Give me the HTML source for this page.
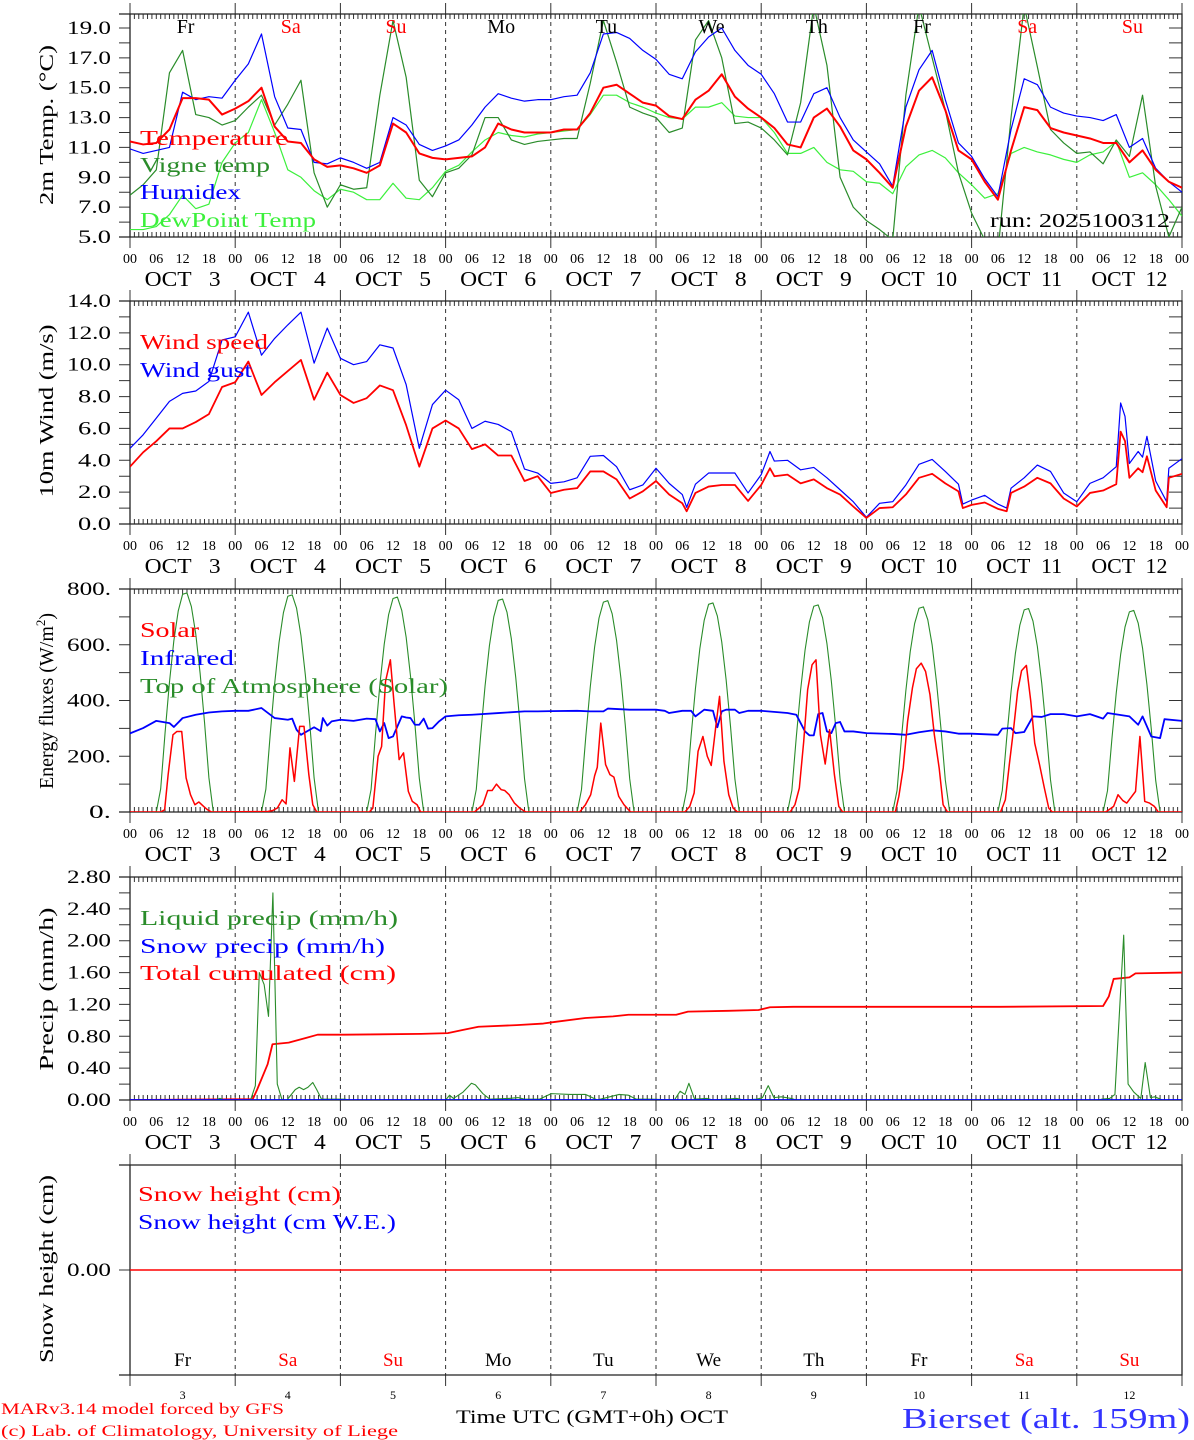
<!DOCTYPE html>
<html><head><meta charset="utf-8"><title>MAR forecast Bierset</title>
<style>
html,body{margin:0;padding:0;background:#fff;}
svg{display:block;font-family:"Liberation Serif","DejaVu Serif",serif;}
.pre{white-space:pre;}
</style></head>
<body>
<svg id="chart" xmlns="http://www.w3.org/2000/svg" width="1194" height="1440" viewBox="0 0 1194 1440"></svg>
<script>
// ---------- DATA ----------
const dayNames = ["Fr","Sa","Su","Mo","Tu","We","Th","Fr","Sa","Su"];
const dayNums = ["3","4","5","6","7","8","9","10","11","12"];
const hourTicks = ["00","06","12","18"];
const tempTicks = [5,7,9,11,13,15,17,19];
const tempTickLabels = ["5.0","7.0","9.0","11.0","13.0","15.0","17.0","19.0"];
const windTicks = [0,2,4,6,8,10,12,14];
const windTickLabels = ["0.0","2.0","4.0","6.0","8.0","10.0","12.0","14.0"];
const energyTicks = [0,200,400,600,800];
const energyTickLabels = ["0.","200.","400.","600.","800."];
const precipTicks = [0,0.4,0.8,1.2,1.6,2.0,2.4,2.8];
const precipTickLabels = ["0.00","0.40","0.80","1.20","1.60","2.00","2.40","2.80"];

const temperature = [11.4,11.2,11.3,12.2,14.3,14.3,14.2,13.2, 13.6,14.1,15.0,12.4,11.4,11.3,10.2,9.7,
 9.8,9.6,9.3,9.8,12.6,12.0,10.6,10.3, 10.2,10.3,10.4,11.0,12.6,12.2,12.0,12.0,
 12.0,12.2,12.2,13.3,15.0,15.2,14.6,14.0, 13.8,13.1,12.9,14.2,14.8,15.9,14.4,13.6,
 13.0,12.3,11.2,11.0,13.0,13.6,12.4,10.8, 10.2,9.3,8.3,12.4,14.8,15.7,13.5,10.8,
 10.2,8.7,7.5,10.8,13.7,13.5,12.3,12.0, 11.8,11.6,11.3,11.3,10.0,10.8,9.5,8.7,8.3];
const vigneTemp = [7.8,8.5,9.5,16.0,17.5,13.2,13.0,12.5, 12.8,13.7,14.5,12.5,13.9,15.5,9.3,7.0,
 8.5,8.2,8.3,14.5,19.5,15.7,8.8,7.7, 9.3,9.6,10.5,13.0,13.0,11.5,11.2,11.4,
 11.5,11.6,11.6,15.3,19.5,16.7,13.7,13.3, 13.0,12.0,12.3,18.2,19.5,17.0,12.6,12.7,
 12.3,11.5,10.5,14.0,20.5,16.5,9.0,7.0, 6.1,5.5,4.8,14.5,20.5,17.0,13.5,9.3,
 6.6,4.8,4.0,13.0,20.5,16.4,12.2,11.3, 10.6,10.7,9.9,11.5,10.4,14.5,8.4,5.0,7.0];
const humidex = [10.9,10.6,10.8,11.0,14.7,14.2,14.4,14.3, 15.5,16.6,18.6,14.4,12.3,12.2,10.0,9.9,
 10.3,10.0,9.6,10.0,13.0,12.5,11.2,10.8, 11.1,11.5,12.5,13.7,14.6,14.3,14.1,14.2,
 14.2,14.4,14.5,16.0,18.6,18.7,18.3,17.5, 16.9,15.9,15.6,17.4,18.4,19.0,17.5,16.5,
 15.9,14.6,12.7,12.7,14.6,15.0,13.0,11.5, 10.7,9.9,8.4,13.7,16.2,17.5,14.2,11.3,
 10.4,8.9,7.7,12.2,15.6,15.2,13.7,13.3, 13.1,13.0,12.8,13.2,11.0,11.6,9.6,8.7,8.0];
const dewPoint = [5.5,5.5,5.7,6.5,7.8,6.9,7.2,10.0, 11.3,12.0,14.2,12.0,9.5,9.0,8.1,7.5,
 8.2,8.0,7.5,7.5,8.6,7.6,7.5,8.3, 9.4,9.8,10.7,11.5,12.0,11.8,11.7,11.9,
 12.0,12.1,12.2,13.2,14.5,14.5,14.0,13.7, 13.3,13.0,12.9,13.7,13.7,14.0,13.1,13.0,
 13.0,12.0,10.6,10.6,11.0,10.0,9.5,9.4, 8.7,8.6,7.9,9.7,10.5,10.8,10.3,9.3,
 8.5,7.6,7.9,10.6,11.0,10.7,10.5,10.2, 10.0,10.5,10.7,11.4,9.0,9.3,8.5,7.5,6.4];

const windHours = [0,3,6,9,12,15,18,21, 24,27,30,33,36,39,42,45, 48,51,54,57,60,63,66,69, 72,75,78,81,84,87,90,93,
 96,99,102,105,108,111,114,117, 120,123,126,127,129,132,135,138,141, 144,146,147,150,153,156,159,162,165,
 168,171,174,177,180,183,186,189,190, 192,195,198,200,201,204,207,210,213,
 216,219,222,225,226,227,228,230,231,232,234,236.5,237,240];
const windSpeed = [3.6,4.5,5.2,6.0,6.0,6.4,6.9,8.6, 8.9,10.2,8.1,8.9,9.6,10.3,7.8,9.5, 8.1,7.6,7.9,8.7,8.4,6.2,3.6,6.0,
 6.5,6.0,4.7,5.0,4.3,4.3,2.7,3.0, 1.95,2.15,2.25,3.3,3.3,2.8,1.6,2.05, 2.7,1.85,1.3,0.8,1.95,2.35,2.45,2.45,1.45,
 2.45,3.5,3.0,3.1,2.55,2.8,2.25,1.85,1.1, 0.38,1.0,1.05,1.85,2.9,3.15,2.55,2.05,1.0,
 1.2,1.35,0.95,0.8,1.95,2.35,2.9,2.55,1.6, 1.1,1.95,2.1,2.5,5.8,5.2,2.9,3.5,3.25,4.25,2.1,1.05,2.9,3.15];
const windGust = [4.75,5.6,6.65,7.7,8.2,8.35,8.95,11.55, 11.75,13.3,10.6,11.65,12.5,13.3,10.1,12.3, 10.4,10.0,10.2,11.25,11.05,8.75,4.75,7.5,
 8.4,7.8,6.0,6.45,6.25,5.8,3.45,3.2, 2.55,2.65,2.9,4.25,4.3,3.6,2.15,2.45, 3.5,2.55,1.85,1.05,2.5,3.2,3.2,3.2,1.95,
 3.1,4.55,3.95,4.0,3.4,3.55,2.9,2.15,1.4, 0.42,1.3,1.4,2.45,3.75,4.05,3.3,2.5,1.25,
 1.5,1.8,1.25,1.0,2.25,2.9,3.7,3.3,1.95, 1.4,2.55,2.9,3.6,7.6,6.75,3.8,4.55,4.2,5.5,2.7,1.4,3.5,4.1];

const solarHours = [0,7,7.9,8.7,9.8,10.7,11.8,12.8,13.8,14.8,15.7,16.8,17.7,18.6,
 31.4,32.5,33.6,34.7,35.6,36.5,37.5,38.7,39.7,40.8,41.7,42.6,
 54.6,55.4,56.6,57.4,58.3,59.4,60.2,61.4,62.4,63.5,64.4,65.5,66.3,
 78.6,80.5,81.6,82.6,83.6,84.7,85.5,86.5,87.7,88.9,90.3,
 102.6,103.9,105.1,106.0,106.6,107.4,108.5,109.5,110.4,111.5,112.7,114.2,
 126.6,127.7,128.7,129.6,130.7,131.7,132.6,133.6,134.5,135.5,136.6,137.6,138.6,
 150.6,151.7,152.7,153.7,154.6,155.6,156.5,157.5,158.6,159.6,160.7,161.7,162.6,
 174.6,175.4,176.4,177.4,178.5,179.4,180.5,181.5,182.5,183.5,184.6,185.5,186.5,
 198.6,199.7,200.6,201.6,202.5,203.4,204.5,205.5,206.4,207.5,208.6,209.6,210.4,
 222.6,224.4,225.4,226.5,227.4,229.4,230.4,231.5,232.6,233.7,234.6,240];
const solar = [0,0,8,134,277,289,289,122,62,26,36,20,8,0,
 2,5,14,44,29,230,110,307,307,134,26,0,
 0,14,200,235,469,546,397,188,212,74,38,26,0,
 0,26,77,77,100,80,77,62,32,14,0,
 0,26,62,130,160,319,170,134,125,56,26,0,
 0,20,68,218,271,200,167,301,415,182,62,14,0,
 0,26,86,253,439,528,546,277,172,295,134,20,0,
 0,56,158,325,445,514,534,504,421,277,158,26,0,
 0,44,170,301,433,507,526,397,247,170,86,14,0,
 0,20,62,41,32,74,271,38,32,20,0,0];
const infraredHours = [0,3,6,9,10,12,15,18,21, 24,27,30,33,36,37,38,39,42,43.5,44,45,46,
 48,51,54,56,57,58,59,60,62,63,64,65,66,67,68,69,70.5, 72,75,78,84,90,93,
 96,102,105,108,109,114,117, 120,122,123,126,128,129,131,133,134,135,136,138,139,141,
 144,150,152,154,155,156,157,158,159,160,161,162,163,165, 168,174,177,180,183,186,189,
 192,198,199,201,202,204,206,208,210,213, 216,219,222,223,228,230,231,233,235,236,240];
const infrared = [282,301,327,319,305,337,349,357,361, 363,363,373,337,331,335,295,277,304,290,337,310,325,
 331,327,335,333,289,319,265,271,343,339,337,313,313,335,299,301,325, 343,347,349,355,361,361,
 362,363,361,361,371,367,367, 367,363,355,363,363,343,367,363,304,361,367,367,355,363,
 363,355,349,289,275,275,351,355,289,283,319,323,289,289, 283,280,277,286,293,289,281,
 281,277,299,301,283,287,343,341,351,351, 343,351,335,355,343,313,343,271,265,333,327];
const toaDaily = [
 [0,83,284,465,614,721,781,786,737,639,497,322,123,0],
 [0,82,281,460,608,715,774,779,731,633,492,319,122,0],
 [0,81,278,456,602,708,766,771,723,627,487,315,121,0],
 [0,81,276,452,597,701,759,764,717,621,483,313,120,0],
 [0,80,274,448,592,696,753,758,711,616,479,310,119,0],
 [0,79,271,443,586,688,745,750,703,610,474,307,118,0],
 [0,78,268,439,580,682,738,743,697,604,470,304,117,0],
 [0,78,266,435,575,676,731,736,690,599,465,301,115,0],
 [0,77,264,432,570,670,725,730,685,594,462,299,115,0],
 [0,76,261,427,565,664,718,723,678,588,457,296,113,0]];

const liquidHours = [0,19.5,20.5,21.5,27.5,28.6,29.5,30.6,31.6,32.6,33.6,34.7,35.8,37.7,38.6,39.6,40.6,41.7,42.6,43.7,49,50,
 72,72.9,73.8,76,77.9,78.8,80.5,82.1,86.5,88.6,90,93.4,96.1,100.4,103.9,106.6,108,111.6,113.7,115.5,119,
 124.2,125.5,126.6,127.5,128.8,131.6,133,138.4,140,143,144.3,145.6,146.9,148.6,150.8,152,197,198.5,200,
 221,221.7,223.5,224.7,226.7,227.7,229,230.6,231.6,232.8,233.8,235.5,240];
const liquidPrecip = [0,0,0.02,0,0,0.18,1.6,1.45,1.05,2.6,0.2,0,0,0.13,0.16,0.13,0.16,0.22,0.13,0.01,0.01,0,
 0,0.06,0.02,0.1,0.21,0.19,0.08,0.01,0.02,0.03,0.01,0.01,0.08,0.07,0.07,0,0.02,0.07,0.06,0.01,0.01,
 0,0.11,0.07,0.21,0.01,0.02,0,0.02,0,0.01,0.03,0.18,0.03,0.04,0.02,0,0,0.01,0,
 0,0.01,0.02,0.07,2.07,0.2,0.1,0.02,0.47,0.03,0.04,0,0];
const cumulHours = [0,28,29,31.4,32.5,36.2,40.2,42.8,48.9,66.4,72.5,76,79.5,88.2,94.3,96.9,103.9,110.2,113.7,124.6,127.3,136.5,143.4,146,151.3,198.5,222,223.3,224.4,228,229.4,240];
const cumulPrecip = [0,0.01,0.13,0.45,0.7,0.72,0.78,0.82,0.82,0.83,0.84,0.88,0.92,0.94,0.96,0.98,1.03,1.05,1.07,1.07,1.11,1.12,1.13,1.165,1.17,1.17,1.18,1.3,1.52,1.54,1.59,1.6];
const snowHours = [0,240];
const snowPrecip = [0,0];
const snowHeight = [0,0];

// ---------- DRAWING ----------
const NS = "http://www.w3.org/2000/svg";
const svg = document.getElementById("chart");
const XL = 130, XR = 1182;
function X(h){ return XL + h * (XR - XL) / 240; }
function mk(tag, attrs, parent){
  const e = document.createElementNS(NS, tag);
  for (const k in attrs) e.setAttribute(k, attrs[k]);
  (parent || svg).appendChild(e);
  return e;
}
function txt(str, attrs, parent){
  const t = mk("text", attrs, parent);
  t.textContent = str;
  return t;
}
const defs = mk("defs", {});
function scaleOf(v0, y0, v1, y1){ return v => y0 + (v - v0) * (y1 - y0) / (v1 - v0); }

const panels = [
  {id:"temp", top:14, bot:237, y:scaleOf(5,237,19,28), minor:[5,6,7,8,9,10,11,12,13,14,15,16,17,18,19]},
  {id:"wind", top:301, bot:524, y:scaleOf(0,524,14,301), minor:[0,1,2,3,4,5,6,7,8,9,10,11,12,13,14]},
  {id:"energy", top:589, bot:812, y:scaleOf(0,812,800,589), minor:[0,100,200,300,400,500,600,700,800]},
  {id:"precip", top:877, bot:1100, y:scaleOf(0,1100,2.8,877), minor:[0,0.2,0.4,0.6,0.8,1.0,1.2,1.4,1.6,1.8,2.0,2.2,2.4,2.6,2.8]}
];

function drawFrame(p, hourlyTicks){
  const g = mk("g", {});
  
  
  const cp = mk("clipPath", {id:"clip-" + p.id}, defs);
  mk("rect", {x:XL, y:p.top, width:XR-XL, height:p.bot-p.top}, cp);
  let d = "";
  for (let k = 1; k < 10; k++){ const x = X(k*24); d += `M${x},${p.top}V${p.bot}`; }
  const dl = mk("path", {d:d, stroke:"#333", "stroke-width":1, "stroke-dasharray":"4,4", fill:"none"}, g);
  
  
  let t = "";
  if (hourlyTicks){
    for (let h = 0; h <= 240; h++){ const x = X(h); t += `M${x},${p.top}v5M${x},${p.bot}v-5`; }
  }
  for (let k = 0; k <= 10; k++){ const x = X(k*24); t += `M${x},${p.top}v-11M${x},${p.bot}v11`; }
  (p.minor || []).forEach(v => { const y = p.y(v); t += `M119,${y}H${XL}M${XR},${y}h-13`; });
  const tk = mk("path", {d:t, stroke:"#333", "stroke-width":1, fill:"none"}, g);
  
  
  const fr = mk("path", {d:`M119,${p.top}H${XR}V${p.bot}H119M${XL},${p.top}V${p.bot}`, stroke:"#222", "stroke-width":1.3, fill:"none"}, g);
  
  
  return g;
}

function xLabels(p){
  const g = mk("g", {"font-size":14, fill:"#000", "text-anchor":"middle"});
  
  
  for (let h = 0; h <= 240; h += 6){
    const t = txt(hourTicks[(h/6)%4], {x:X(h), y:p.bot+26}, g);
    
    
  }
  for (let k = 0; k < 10; k++){
    const lab = "OCT" + (dayNums[k].length === 1 ? "   " : "  ") + dayNums[k];
    const t = txt(lab, {x:X(k*24+12), y:p.bot+49, "font-size":21, "class":"pre", textLength:76, lengthAdjust:"spacingAndGlyphs"}, g);
    
    
  }
}

function yLabels(p, vals, labels){
  const g = mk("g", {"font-size":19, fill:"#000", "text-anchor":"end"});
  
  
  vals.forEach((v, i) => {
    const L = labels[i];
    const t = txt(L, {x:111, y:p.y(v)+6, textLength: L.length*11, lengthAdjust:"spacingAndGlyphs"}, g);
    
    
  });
}

function yTitle(str, cy, len, name){
  const t = txt(str, {x:0, y:0, "font-size":20, "text-anchor":"middle", textLength:len, lengthAdjust:"spacingAndGlyphs",
    transform:`translate(53,${cy}) rotate(-90)`});
  
  
  return t;
}

function legend(str, x, y, color, len, name){
  const t = txt(str, {x:x, y:y, "font-size":21, fill:color, textLength:len, lengthAdjust:"spacingAndGlyphs"});
  
  
}

function series(p, hours, vals, color, width, name){
  let d = "";
  vals.forEach((v, i) => { d += (i ? "L" : "M") + X(hours[i]).toFixed(2) + "," + p.y(v).toFixed(2); });
  const e = mk("path", {d:d, stroke:color, "stroke-width":width, fill:"none", "clip-path":`url(#clip-${p.id})`, "stroke-linejoin":"round"});
  
  
  return e;
}

const RED = "#ff0000", BLUE = "#0000ff", DGREEN = "#2a8c2a", LGREEN = "#3cf03c";
const grid3h = temperature.map((_, i) => i*3);

const P1 = panels[0];
drawFrame(P1, true);
yLabels(P1, tempTicks, tempTickLabels);
xLabels(P1);
yTitle("2m Temp. (\u00B0C)", 125, 160, "temp-y-axis-title");
series(P1, grid3h, dewPoint, LGREEN, 1.2, "dewpoint-line");
series(P1, grid3h, vigneTemp, DGREEN, 1.2, "vigne-temp-line");
series(P1, grid3h, humidex, BLUE, 1.2, "humidex-line");
series(P1, grid3h, temperature, RED, 2, "temperature-line");
legend("Temperature", 140, 145, RED, 148, "legend-temperature");
legend("Vigne temp", 140, 172, DGREEN, 130, "legend-vigne-temp");
legend("Humidex", 140, 199, BLUE, 101, "legend-humidex");
legend("DewPoint Temp", 140, 227, LGREEN, 176, "legend-dewpoint");
{
  const t = txt("run: 2025100312", {x:990, y:227, "font-size":20, fill:"#000", textLength:180, lengthAdjust:"spacingAndGlyphs"});
  
  
}
{
  const g = mk("g", {"font-size":20, "text-anchor":"middle"});
  
  
  dayNames.forEach((n, k) => {
    const t = txt(n, {x:X(k*24+12)+3, y:33, fill:(n==="Sa"||n==="Su") ? RED : "#000"}, g);
    
    
  });
}

const P2 = panels[1];
drawFrame(P2, true);
{
  const e = mk("path", {d:`M${XL},${P2.y(5)}H${XR}`, stroke:"#333", "stroke-dasharray":"4,4", "stroke-width":1});
  
  
}
yLabels(P2, windTicks, windTickLabels);
xLabels(P2);
yTitle("10m Wind (m/s)", 411, 173, "wind-y-axis-title");
series(P2, windHours, windGust, BLUE, 1.2, "wind-gust-line");
series(P2, windHours, windSpeed, RED, 1.8, "wind-speed-line");
legend("Wind speed", 140, 349, RED, 128, "legend-wind-speed");
legend("Wind gust", 140, 377, BLUE, 112, "legend-wind-gust");

const P3 = panels[2];
drawFrame(P3, true);
yLabels(P3, energyTicks, energyTickLabels);
xLabels(P3);
{
  const t = txt("", {x:0, y:0, "font-size":20, "text-anchor":"middle", transform:"translate(53,701) rotate(-90)"});
  const a = document.createElementNS(NS, "tspan"); a.textContent = "Energy fluxes (W/m"; t.appendChild(a);
  const b = document.createElementNS(NS, "tspan"); b.textContent = "2"; b.setAttribute("dy", "-8"); b.setAttribute("font-size", "13"); t.appendChild(b);
  const c = document.createElementNS(NS, "tspan"); c.textContent = ")"; c.setAttribute("dy", "8"); t.appendChild(c);
  
  
}
{
  const toaHours = [0], toaVals = [0];
  toaDaily.forEach((arr, k) => arr.forEach((v, i) => { toaHours.push(k*24+6+i); toaVals.push(v); }));
  toaHours.push(240); toaVals.push(0);
  series(P3, toaHours, toaVals, DGREEN, 1.1, "toa-solar-line");
}
series(P3, infraredHours, infrared, BLUE, 1.8, "infrared-line");
series(P3, solarHours, solar, RED, 1.5, "solar-line");
legend("Solar", 140, 637, RED, 59, "legend-solar");
legend("Infrared", 140, 665, BLUE, 94, "legend-infrared");
legend("Top of Atmosphere (Solar)", 140, 693, DGREEN, 308, "legend-toa");

const P4 = panels[3];
drawFrame(P4, true);
yLabels(P4, precipTicks, precipTickLabels);
xLabels(P4);
yTitle("Precip (mm/h)", 989, 163, "precip-y-axis-title");
series(P4, cumulHours, cumulPrecip, RED, 1.8, "total-cumulated-line");
series(P4, liquidHours, liquidPrecip, DGREEN, 1.1, "liquid-precip-line");
series(P4, snowHours, snowPrecip, BLUE, 1.8, "snow-precip-line");
legend("Liquid precip (mm/h)", 140, 925, DGREEN, 258, "legend-liquid-precip");
legend("Snow precip (mm/h)", 140, 953, BLUE, 245, "legend-snow-precip");
legend("Total cumulated (cm)", 140, 980, RED, 256, "legend-total-cumulated");

const P5 = {id:"snow", top:1165, bot:1375, y:scaleOf(0,1270,1,1170), minor:[0]};
drawFrame(P5, false);
yLabels(P5, [0], ["0.00"]);
yTitle("Snow height (cm)", 1269, 188, "snow-y-axis-title");
series(P5, snowHours, snowHeight, RED, 1.5, "snow-height-line");
legend("Snow height (cm)", 138, 1201, RED, 203, "legend-snow-height");
legend("Snow height (cm W.E.)", 138, 1229, BLUE, 258, "legend-snow-height-we");
{
  const g = mk("g", {"text-anchor":"middle"});
  
  
  dayNames.forEach((n, k) => {
    const t = txt(n, {x:X(k*24+12), y:1366, "font-size":19, fill:(n==="Sa"||n==="Su") ? RED : "#000"}, g);
    
    
    const u = txt(dayNums[k], {x:X(k*24+12), y:1399, "font-size":12, fill:"#000"}, g);
    
    
  });
}
{
  const t = txt("Time UTC (GMT+0h) OCT", {x:456, y:1423, "font-size":19, fill:"#000", textLength:272, lengthAdjust:"spacingAndGlyphs"});
  
  
  const a = txt("MARv3.14 model forced by GFS", {x:1, y:1414, "font-size":16, fill:RED, textLength:283, lengthAdjust:"spacingAndGlyphs"});
  
  
  const b = txt("(c) Lab. of Climatology, University of Liege", {x:1, y:1436, "font-size":16, fill:RED, textLength:397, lengthAdjust:"spacingAndGlyphs"});
  
  
  const c = txt("Bierset (alt. 159m)", {x:902, y:1428, "font-size":28, fill:"#3333ff", textLength:288, lengthAdjust:"spacingAndGlyphs"});
  
  
}
</script>
</body></html>
